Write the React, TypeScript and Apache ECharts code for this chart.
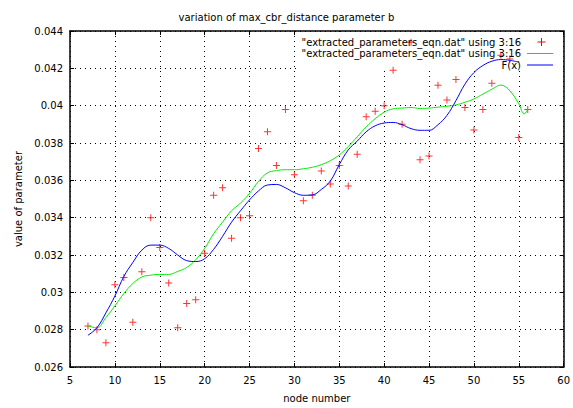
import React, { useEffect, useRef } from "react";
import * as echarts from "echarts";

const TITLE = "variation of max_cbr_distance parameter b";
const X_NAME = "node number";
const Y_NAME = "value of parameter";
const LEGEND_DATA = '"extracted_parameters_eqn.dat" using 3:16';
const LEGEND_FIT = "F(x)";

const nodes = [
  7, 8, 9, 10, 11, 12, 13, 14, 15, 16, 17, 18, 19, 20, 21, 22, 23, 24, 25, 26,
  27, 28, 29, 30, 31, 32, 33, 34, 35, 36, 37, 38, 39, 40, 41, 42, 43, 44, 45, 46,
  47, 48, 49, 50, 51, 52, 53, 54, 55, 56,
];
const paramValues = [
  0.0282, 0.028, 0.0273, 0.0304, 0.0308, 0.0284, 0.0311, 0.034, 0.0324, 0.0305,
  0.0281, 0.0294, 0.0296, 0.0321, 0.0352, 0.0356, 0.0329, 0.034, 0.0341, 0.0377,
  0.0386, 0.0368, 0.0398, 0.0363, 0.0349, 0.0352, 0.0365, 0.0358, 0.0368, 0.0357,
  0.0374, 0.0394, 0.0397, 0.04, 0.0419, 0.039, 0.0434, 0.0371, 0.0373, 0.0411,
  0.0403, 0.0414, 0.0399, 0.0387, 0.0398, 0.0412, 0.0427, 0.0425, 0.0383, 0.0398,
];

const smoothNodes = [
  7, 8, 9, 10, 11, 12, 13, 14, 15, 16, 17, 18, 19, 20, 21, 22, 23, 24, 25, 26,
  27, 28, 29, 30, 31, 32, 33, 34, 35, 36, 37, 38, 39, 40, 41, 42, 43, 44, 45, 46,
  47, 48, 49, 50, 51, 52, 53, 54, 55, 55.6, 56,
];
const smoothValues = [
  0.0282, 0.0281, 0.02865, 0.02927, 0.02994, 0.03047, 0.03082, 0.03092, 0.03096,
  0.03096, 0.03112, 0.03133, 0.03174, 0.03235, 0.03314, 0.03376, 0.03437, 0.03478,
  0.0353, 0.03594, 0.0364, 0.03652, 0.03657, 0.03657, 0.03662, 0.0367, 0.03684,
  0.03705, 0.03736, 0.03781, 0.03833, 0.03886, 0.0393, 0.03965, 0.03983, 0.03987,
  0.0399, 0.03985, 0.03987, 0.03992, 0.03997, 0.04004, 0.04018, 0.04036, 0.04062,
  0.04088, 0.0411, 0.0408, 0.0401, 0.03956, 0.0398,
];

const fitNodes = [
  7, 8, 9, 10, 11, 12, 13, 14, 15, 16, 17, 18, 19, 20, 21, 22, 23, 24, 25, 26,
  27, 28, 29, 30, 31, 32, 33, 34, 35, 36, 37, 38, 39, 40, 41, 42, 43, 44, 45, 46,
  47, 48, 49, 50, 51, 52, 53, 54, 55,
];
const fitValues = [
  0.0277, 0.0281, 0.0289, 0.0298, 0.03085, 0.0316, 0.03226, 0.03253, 0.03253,
  0.03235, 0.032, 0.0317, 0.03165, 0.0318, 0.0323, 0.033, 0.03376, 0.03437,
  0.03495, 0.03543, 0.03575, 0.03578, 0.0356, 0.03534, 0.0352, 0.03522, 0.03551,
  0.03596, 0.03684, 0.03763, 0.0381, 0.0386, 0.03892, 0.03907, 0.0391, 0.03898,
  0.03877, 0.03868, 0.03868, 0.03898, 0.03948, 0.04027, 0.04115, 0.04177, 0.04215,
  0.04238, 0.04247, 0.04243, 0.04233,
];

const FONT = "DejaVu Sans";

export default function App() {
  const ref = useRef<HTMLDivElement>(null);
  useEffect(() => {
    const chart = echarts.init(ref.current!, null, { renderer: "svg" });
    const zip = (xs: number[], ys: number[]) => xs.map((x, i) => [x, ys[i]]);
    const fmtY = (v: number) => String(parseFloat(v.toFixed(4)));
    const tickStyle = { show: true, inside: true, length: 4, lineStyle: { color: "#000", width: 1 } };
    const axisLine = { show: true, onZero: false, lineStyle: { color: "#000", width: 1.5 } };
    const split = { show: true, lineStyle: { color: "#000", width: 1, type: [1, 4] as any } };
    const labelStyle = { fontFamily: FONT, fontSize: 10, color: "#000" };

    chart.setOption({
      animation: false,
      backgroundColor: "#fff",
      title: {
        text: TITLE,
        left: "center",
        top: 7,
        textStyle: { fontFamily: FONT, fontSize: 10, fontWeight: "normal", color: "#000" },
      },
      grid: { left: 70, right: 8, top: 31, bottom: 36, containLabel: false },
      xAxis: [
        {
          type: "value",
          min: 5,
          max: 60,
          interval: 5,
          axisLine,
          axisTick: tickStyle,
          splitLine: split,
          axisLabel: { ...labelStyle, margin: 8 },
          name: X_NAME,
          nameLocation: "middle",
          nameGap: 26,
          nameTextStyle: labelStyle,
        },
        {
          type: "value",
          position: "top",
          min: 5,
          max: 60,
          interval: 5,
          axisLine,
          axisTick: tickStyle,
          splitLine: { show: false },
          axisLabel: { show: false },
        },
      ],
      yAxis: [
        {
          type: "value",
          min: 0.026,
          max: 0.044,
          interval: 0.002,
          axisLine,
          axisTick: tickStyle,
          splitLine: split,
          axisLabel: { ...labelStyle, margin: 7, formatter: fmtY },
          name: Y_NAME,
          nameLocation: "middle",
          nameRotate: 90,
          nameGap: 46,
          nameTextStyle: labelStyle,
        },
        {
          type: "value",
          position: "right",
          min: 0.026,
          max: 0.044,
          interval: 0.002,
          axisLine,
          axisTick: tickStyle,
          splitLine: { show: false },
          axisLabel: { show: false },
        },
      ],
      graphic: [
        { type: "rect", z: 1, shape: { x: 296, y: 32, width: 267, height: 39 }, style: { fill: "#fff" } },
        {
          type: "text", z: 10, x: 521, y: 42,
          style: { text: LEGEND_DATA, align: "right", verticalAlign: "middle", font: `10px "${FONT}"`, fill: "#000" },
        },
        { type: "line", z: 10, shape: { x1: 537.5, y1: 42, x2: 545.5, y2: 42 }, style: { stroke: "#ff0000", lineWidth: 1 } },
        { type: "line", z: 10, shape: { x1: 541.5, y1: 38, x2: 541.5, y2: 46 }, style: { stroke: "#ff0000", lineWidth: 1 } },
        {
          type: "text", z: 10, x: 521, y: 53.5,
          style: { text: LEGEND_DATA, align: "right", verticalAlign: "middle", font: `10px "${FONT}"`, fill: "#000" },
        },
        { type: "line", z: 10, shape: { x1: 527, y1: 53.5, x2: 553, y2: 53.5 }, style: { stroke: "#00ee00", lineWidth: 1 } },
        {
          type: "text", z: 10, x: 521, y: 65,
          style: { text: LEGEND_FIT, align: "right", verticalAlign: "middle", font: `10px "${FONT}"`, fill: "#000" },
        },
        { type: "line", z: 10, shape: { x1: 527, y1: 65, x2: 553, y2: 65 }, style: { stroke: "#0000ff", lineWidth: 1 } },
      ],
      series: [
        {
          type: "scatter",
          z: 2,
          data: zip(nodes, paramValues),
          symbol: "path://M3,0H4V3H7V4H4V7H3V4H0V3H3Z",
          symbolSize: 7,
          itemStyle: { color: "#ff0000" },
        },
        {
          type: "line",
          z: 3,
          data: zip(smoothNodes, smoothValues),
          showSymbol: false,
          smooth: 0.4,
          lineStyle: { color: "#00ee00", width: 1 },
        },
        {
          type: "line",
          z: 4,
          data: zip(fitNodes, fitValues),
          showSymbol: false,
          smooth: 0.4,
          lineStyle: { color: "#0000ff", width: 1 },
        },
      ],
    });
    return () => chart.dispose();
  }, []);
  return <div ref={ref} style={{ position: "absolute", left: 0, top: 0, width: 573, height: 408 }} />;
}
